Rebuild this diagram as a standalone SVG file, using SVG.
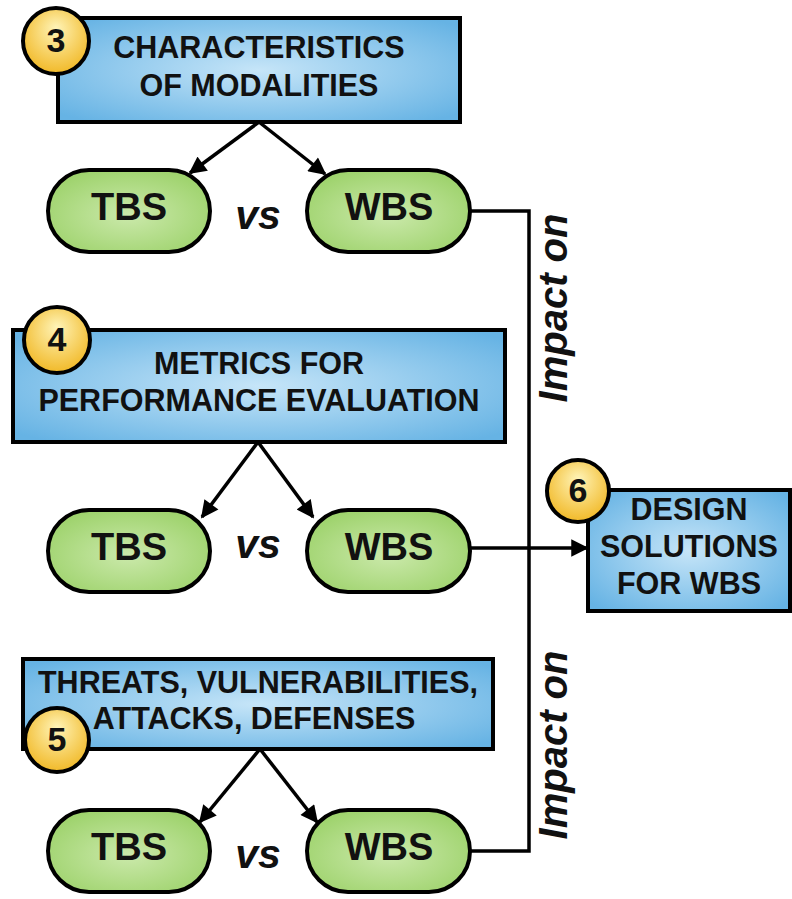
<svg xmlns="http://www.w3.org/2000/svg" width="792" height="899" viewBox="0 0 792 899">
<defs>
<radialGradient id="gBlue" cx="50%" cy="50%" r="65%">
<stop offset="0" stop-color="#c6e5f8"/>
<stop offset="1" stop-color="#66b3e4"/>
</radialGradient>
<radialGradient id="gGreen" cx="50%" cy="55%" r="60%">
<stop offset="0" stop-color="#cbe9ab"/>
<stop offset="1" stop-color="#9dd26b"/>
</radialGradient>
<radialGradient id="gYellow" cx="50%" cy="40%" r="60%" fx="50%" fy="30%">
<stop offset="0" stop-color="#fff4b8"/>
<stop offset="1" stop-color="#f1b928"/>
</radialGradient>
<marker id="ah" viewBox="0 0 10 10" refX="9" refY="5" markerWidth="5.5" markerHeight="5" orient="auto" markerUnits="strokeWidth">
<path d="M0,0 L10,5 L0,10 z" fill="#000"/>
</marker>
</defs>
<style>
.box{fill:url(#gBlue);stroke:#000;stroke-width:4}
.pill{fill:url(#gGreen);stroke:#000;stroke-width:4}
.badge{fill:url(#gYellow);stroke:#000;stroke-width:4}
.t{font-family:"Liberation Sans",Arial,sans-serif;font-weight:bold;font-size:30.5px;fill:#111;text-anchor:middle}
.p{font-family:"Liberation Sans",Arial,sans-serif;font-weight:bold;font-size:38px;fill:#111;text-anchor:middle}
.n{font-family:"Liberation Sans",Arial,sans-serif;font-weight:bold;font-size:34px;fill:#111;text-anchor:middle}
.vs{font-family:"Liberation Sans",Arial,sans-serif;font-weight:bold;font-style:italic;font-size:41px;fill:#111;text-anchor:middle}
.im{font-family:"Liberation Sans",Arial,sans-serif;font-weight:bold;font-style:italic;font-size:40px;fill:#111;text-anchor:middle}
.c{fill:none;stroke:#000;stroke-width:3.5}
</style>

<g id="connectors">
<line class="c" x1="259" y1="122" x2="190" y2="173" marker-end="url(#ah)"/>
<line class="c" x1="259" y1="122" x2="325" y2="174" marker-end="url(#ah)"/>
<line class="c" x1="258" y1="442" x2="202" y2="517" marker-end="url(#ah)"/>
<line class="c" x1="258" y1="442" x2="313" y2="517" marker-end="url(#ah)"/>
<line class="c" x1="260" y1="749" x2="200" y2="822" marker-end="url(#ah)"/>
<line class="c" x1="260" y1="749" x2="317" y2="822" marker-end="url(#ah)"/>
<polyline class="c" points="470,211 529,211 529,851 470,851"/>
<line class="c" x1="470" y1="548" x2="587" y2="548" marker-end="url(#ah)"/>
<text class="im" transform="translate(567,308) rotate(-90)">Impact on</text>
<text class="im" transform="translate(567,745) rotate(-90)">Impact on</text>
</g>

<g id="box3">
<rect class="box" x="58" y="18" width="402" height="104"/>
<text class="t" x="259" y="58">CHARACTERISTICS</text>
<text class="t" x="259" y="96">OF MODALITIES</text>
<circle class="badge" cx="56" cy="41" r="33"/>
<text class="n" x="56" y="52">3</text>
</g>

<g id="tbs1"><rect class="pill" x="48" y="170" width="162" height="82" rx="41"/><text class="p" x="129" y="220">TBS</text></g>
<text class="vs" x="258" y="229">vs</text>
<g id="wbs1"><rect class="pill" x="307" y="170" width="163" height="82" rx="41"/><text class="p" x="389" y="220">WBS</text></g>

<g id="box4">
<rect class="box" x="13" y="330" width="492" height="112"/>
<text class="t" x="259" y="374">METRICS FOR</text>
<text class="t" x="259" y="411">PERFORMANCE EVALUATION</text>
<circle class="badge" cx="57" cy="340" r="33"/>
<text class="n" x="57" y="351">4</text>
</g>

<g id="tbs2"><rect class="pill" x="48" y="510" width="162" height="82" rx="41"/><text class="p" x="129" y="560">TBS</text></g>
<text class="vs" x="258" y="558">vs</text>
<g id="wbs2"><rect class="pill" x="307" y="510" width="163" height="82" rx="41"/><text class="p" x="389" y="560">WBS</text></g>

<g id="box5">
<rect class="box" x="23" y="659" width="470" height="90"/>
<text class="t" x="258" y="693">THREATS, VULNERABILITIES,</text>
<text class="t" x="254" y="729">ATTACKS, DEFENSES</text>
<circle class="badge" cx="57" cy="740" r="32"/>
<text class="n" x="57" y="751">5</text>
</g>

<g id="tbs3"><rect class="pill" x="48" y="810" width="162" height="82" rx="41"/><text class="p" x="129" y="860">TBS</text></g>
<text class="vs" x="258" y="868">vs</text>
<g id="wbs3"><rect class="pill" x="307" y="810" width="163" height="82" rx="41"/><text class="p" x="389" y="860">WBS</text></g>

<g id="box6">
<rect class="box" x="588" y="490" width="202" height="121"/>
<text class="t" x="689" y="520">DESIGN</text>
<text class="t" x="689" y="557">SOLUTIONS</text>
<text class="t" x="689" y="594">FOR WBS</text>
<circle class="badge" cx="578" cy="491" r="31"/>
<text class="n" x="578" y="502">6</text>
</g>
</svg>
